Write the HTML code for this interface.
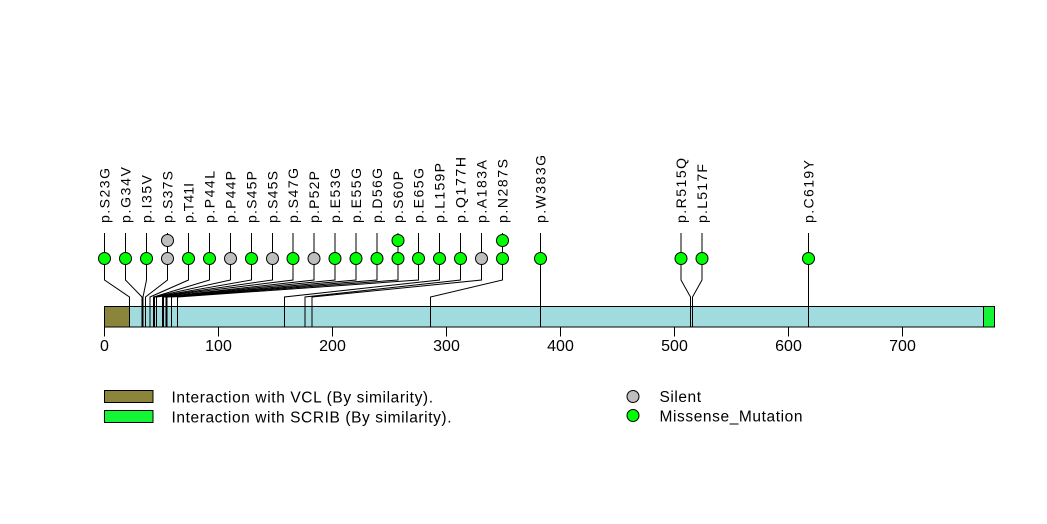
<!DOCTYPE html>
<html>
<head>
<meta charset="utf-8">
<style>
  html,body{margin:0;padding:0;background:#fff;}
  svg{display:block;}
  text{font-family:"Liberation Sans", Arial, sans-serif; fill:#000;}
</style>
</head>
<body>
<svg width="1047" height="524" viewBox="0 0 1047 524" xmlns="http://www.w3.org/2000/svg">
  <rect x="0" y="0" width="1047" height="524" fill="#fff"/>

  <!-- protein bar -->
  <rect x="104.5" y="306.5" width="890" height="20.5" fill="#A0DCDE" stroke="#000" stroke-width="1"/>
  <rect x="104.5" y="306.5" width="25" height="20.5" fill="#8A853A" stroke="#000" stroke-width="1"/>
  <rect x="983.5" y="306.5" width="11" height="20.5" fill="#14F536" stroke="#000" stroke-width="1"/>

  <!-- connectors -->
  <g fill="none" stroke="#000" stroke-width="1">
    <polyline points="104.5,233 104.5,280 129.5,297 129.5,327"/>
    <polyline points="125.5,233 125.5,280 142,297 142,327"/>
    <polyline points="146.5,233 146.5,280 143,297 143,327"/>
    <polyline points="167.5,233 167.5,280 145.5,297 145.5,327"/>
    <polyline points="188.5,233 188.5,280 150,297 150,327"/>
    <polyline points="209.5,233 209.5,280 153.5,297 153.5,327"/>
    <polyline points="230.5,233 230.5,280 153.5,297 153.5,327"/>
    <polyline points="251.5,233 251.5,280 154.5,297 154.5,327"/>
    <polyline points="272.5,233 272.5,280 154.5,297 154.5,327"/>
    <polyline points="293,233 293,280 156.5,297 156.5,327"/>
    <polyline points="314,233 314,280 162.5,297 162.5,327"/>
    <polyline points="335,233 335,280 163.5,297 163.5,327"/>
    <polyline points="356,233 356,280 166,297 166,327"/>
    <polyline points="377,233 377,280 167,297 167,327"/>
    <polyline points="398,233 398,280 171.5,297 171.5,327"/>
    <polyline points="418.5,233 418.5,280 177.5,297 177.5,327"/>
    <polyline points="439.5,233 439.5,280 284.5,297 284.5,327"/>
    <polyline points="460.5,233 460.5,280 305,297 305,327"/>
    <polyline points="481.5,233 481.5,280 312,297 312,327"/>
    <polyline points="502.5,233 502.5,280 430.5,297 430.5,327"/>
    <polyline points="540.5,233 540.5,280 540.5,297 540.5,327"/>
    <polyline points="681,233 681,280 690.5,297 690.5,327"/>
    <polyline points="702,233 702,280 692.5,297 692.5,327"/>
    <polyline points="808.5,233 808.5,280 808.5,297 808.5,327"/>
  </g>

  <!-- circles -->
  <g stroke="#000" stroke-width="1">
    <circle cx="104.5" cy="258.5" r="6" fill="#00FF00"/>
    <circle cx="125.5" cy="258.5" r="6" fill="#00FF00"/>
    <circle cx="146.5" cy="258.5" r="6" fill="#00FF00"/>
    <circle cx="167.5" cy="258.5" r="6" fill="#BEBEBE"/>
    <circle cx="167.5" cy="240.5" r="6" fill="#BEBEBE"/>
    <circle cx="188.5" cy="258.5" r="6" fill="#00FF00"/>
    <circle cx="209.5" cy="258.5" r="6" fill="#00FF00"/>
    <circle cx="230.5" cy="258.5" r="6" fill="#BEBEBE"/>
    <circle cx="251.5" cy="258.5" r="6" fill="#00FF00"/>
    <circle cx="272.5" cy="258.5" r="6" fill="#BEBEBE"/>
    <circle cx="293" cy="258.5" r="6" fill="#00FF00"/>
    <circle cx="314" cy="258.5" r="6" fill="#BEBEBE"/>
    <circle cx="335" cy="258.5" r="6" fill="#00FF00"/>
    <circle cx="356" cy="258.5" r="6" fill="#00FF00"/>
    <circle cx="377" cy="258.5" r="6" fill="#00FF00"/>
    <circle cx="398" cy="258.5" r="6" fill="#00FF00"/>
    <circle cx="398" cy="240.5" r="6" fill="#00FF00"/>
    <circle cx="418.5" cy="258.5" r="6" fill="#00FF00"/>
    <circle cx="439.5" cy="258.5" r="6" fill="#00FF00"/>
    <circle cx="460.5" cy="258.5" r="6" fill="#00FF00"/>
    <circle cx="481.5" cy="258.5" r="6" fill="#BEBEBE"/>
    <circle cx="502.5" cy="258.5" r="6" fill="#00FF00"/>
    <circle cx="502.5" cy="240.5" r="6" fill="#00FF00"/>
    <circle cx="540.5" cy="258.5" r="6" fill="#00FF00"/>
    <circle cx="681" cy="258.5" r="6" fill="#00FF00"/>
    <circle cx="702" cy="258.5" r="6" fill="#00FF00"/>
    <circle cx="808.5" cy="258.5" r="6" fill="#00FF00"/>
  </g>

  <!-- mutation labels -->
  <g font-size="14" lengthAdjust="spacing">
    <text transform="translate(109.5,223) rotate(-90)" textLength="55" lengthAdjust="spacing">p.S23G</text>
    <text transform="translate(130.5,223) rotate(-90)" textLength="56" lengthAdjust="spacing">p.G34V</text>
    <text transform="translate(151.5,223) rotate(-90)" textLength="48" lengthAdjust="spacing">p.I35V</text>
    <text transform="translate(172.5,223) rotate(-90)" textLength="52" lengthAdjust="spacing">p.S37S</text>
    <text transform="translate(193.5,223) rotate(-90)" textLength="40" lengthAdjust="spacing">p.T41I</text>
    <text transform="translate(214.5,223) rotate(-90)" textLength="52" lengthAdjust="spacing">p.P44L</text>
    <text transform="translate(235.5,223) rotate(-90)" textLength="52" lengthAdjust="spacing">p.P44P</text>
    <text transform="translate(256.5,223) rotate(-90)" textLength="52" lengthAdjust="spacing">p.S45P</text>
    <text transform="translate(277.5,223) rotate(-90)" textLength="52" lengthAdjust="spacing">p.S45S</text>
    <text transform="translate(298,223) rotate(-90)" textLength="55" lengthAdjust="spacing">p.S47G</text>
    <text transform="translate(319,223) rotate(-90)" textLength="52" lengthAdjust="spacing">p.P52P</text>
    <text transform="translate(340,223) rotate(-90)" textLength="55" lengthAdjust="spacing">p.E53G</text>
    <text transform="translate(361,223) rotate(-90)" textLength="55" lengthAdjust="spacing">p.E55G</text>
    <text transform="translate(382,223) rotate(-90)" textLength="55" lengthAdjust="spacing">p.D56G</text>
    <text transform="translate(403,223) rotate(-90)" textLength="52" lengthAdjust="spacing">p.S60P</text>
    <text transform="translate(423.5,223) rotate(-90)" textLength="55" lengthAdjust="spacing">p.E65G</text>
    <text transform="translate(444.5,223) rotate(-90)" textLength="60" lengthAdjust="spacing">p.L159P</text>
    <text transform="translate(465.5,223) rotate(-90)" textLength="66" lengthAdjust="spacing">p.Q177H</text>
    <text transform="translate(486.5,223) rotate(-90)" textLength="63" lengthAdjust="spacing">p.A183A</text>
    <text transform="translate(507.5,223) rotate(-90)" textLength="64" lengthAdjust="spacing">p.N287S</text>
    <text transform="translate(545.5,223) rotate(-90)" textLength="68" lengthAdjust="spacing">p.W383G</text>
    <text transform="translate(686,223) rotate(-90)" textLength="65" lengthAdjust="spacing">p.R515Q</text>
    <text transform="translate(707,223) rotate(-90)" textLength="59" lengthAdjust="spacing">p.L517F</text>
    <text transform="translate(813.5,223) rotate(-90)" textLength="63" lengthAdjust="spacing">p.C619Y</text>
  </g>

  <!-- axis ticks -->
  <g stroke="#000" stroke-width="1">
    <line x1="104.5" y1="327" x2="104.5" y2="336.5"/>
    <line x1="218.5" y1="327" x2="218.5" y2="336.5"/>
    <line x1="332.5" y1="327" x2="332.5" y2="336.5"/>
    <line x1="446.5" y1="327" x2="446.5" y2="336.5"/>
    <line x1="560.5" y1="327" x2="560.5" y2="336.5"/>
    <line x1="674.5" y1="327" x2="674.5" y2="336.5"/>
    <line x1="788.5" y1="327" x2="788.5" y2="336.5"/>
    <line x1="902.5" y1="327" x2="902.5" y2="336.5"/>
  </g>
  <g font-size="16" text-anchor="middle">
    <text x="104.5" y="351">0</text>
    <text x="218.5" y="351">100</text>
    <text x="332.5" y="351">200</text>
    <text x="446.5" y="351">300</text>
    <text x="560.5" y="351">400</text>
    <text x="674.5" y="351">500</text>
    <text x="788.5" y="351">600</text>
    <text x="902.5" y="351">700</text>
  </g>

  <!-- legend left -->
  <rect x="104.5" y="390.5" width="48.5" height="12" fill="#8A853A" stroke="#000" stroke-width="1"/>
  <rect x="104.5" y="410.5" width="48.5" height="12" fill="#14F536" stroke="#000" stroke-width="1"/>
  <text x="171.5" y="402.5" font-size="15.5" textLength="261.5" lengthAdjust="spacing">Interaction with VCL (By similarity).</text>
  <text x="171.5" y="422.5" font-size="15.5" textLength="280" lengthAdjust="spacing">Interaction with SCRIB (By similarity).</text>

  <!-- legend right -->
  <circle cx="633" cy="396.5" r="6" fill="#BEBEBE" stroke="#000" stroke-width="1"/>
  <circle cx="633" cy="415.5" r="6" fill="#00FF00" stroke="#000" stroke-width="1"/>
  <text x="659.5" y="402" font-size="15.5" textLength="41.5" lengthAdjust="spacing">Silent</text>
  <text x="659.5" y="421.5" font-size="15.5" textLength="143" lengthAdjust="spacing">Missense_Mutation</text>
</svg>
</body>
</html>
